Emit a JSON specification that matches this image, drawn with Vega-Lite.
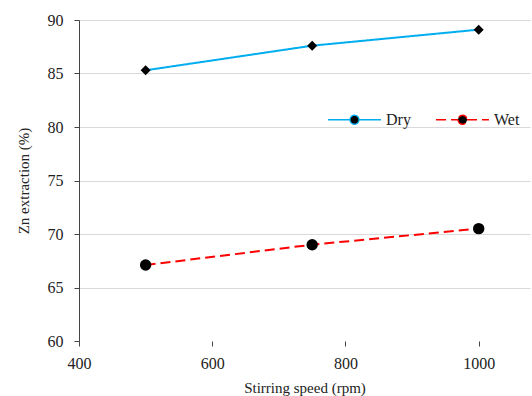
{
  "$schema": "https://vega.github.io/schema/vega-lite/v6.json",
  "width": 451,
  "height": 321,
  "autosize": {"type": "none"},
  "padding": {"left": 79, "top": 20, "right": 2, "bottom": 55},
  "background": "white",
  "config": {
    "view": {"stroke": null},
    "font": "Liberation Serif",
    "legend": {"labelFont": "Liberation Serif", "labelFontSize": 16, "labelColor": "#222"}
  },
  "data": {
    "values": [
      {"speed": 500, "ext": 85.3, "series": "Dry"},
      {"speed": 750, "ext": 87.6, "series": "Dry"},
      {"speed": 1000, "ext": 89.1, "series": "Dry"},
      {"speed": 500, "ext": 67.1, "series": "Wet"},
      {"speed": 750, "ext": 69.0, "series": "Wet"},
      {"speed": 1000, "ext": 70.5, "series": "Wet"}
    ]
  },
  "encoding": {
    "x": {
      "field": "speed", "type": "quantitative",
      "scale": {"domain": [400, 1077], "nice": false, "zero": false},
      "axis": {"values": [400, 600, 800, 1000], "format": "d", "labelFlush": false, "title": "Stirring  speed (rpm)", "domain": false, "grid": false, "tickSize": 5, "tickColor": "#444", "labelPadding": 9, "titlePadding": 9,
        "labelFont": "Liberation Serif", "titleFont": "Liberation Serif", "labelFontSize": 16, "titleFontSize": 15, "titleFontWeight": "normal", "labelColor": "#222", "titleColor": "#222"}
    },
    "y": {
      "field": "ext", "type": "quantitative",
      "scale": {"domain": [60, 90], "nice": false, "zero": false},
      "axis": {"values": [60, 65, 70, 75, 80, 85, 90], "title": "Zn extraction (%)", "domainColor": "#444", "tickColor": "#444", "tickSize": 5, "labelPadding": 11, "titlePadding": 16, "gridColor": "#d9d9d9", "gridOpacity": {"condition": {"test": "datum.value === 60", "value": 0}, "value": 1},
        "labelFont": "Liberation Serif", "titleFont": "Liberation Serif", "labelFontSize": 16, "titleFontSize": 15, "titleFontWeight": "normal", "labelColor": "#222", "titleColor": "#222"}
    }
  },
  "layer": [
    {
      "mark": {"type": "line", "strokeWidth": 2},
      "encoding": {
        "color": {
          "field": "series", "type": "nominal",
          "scale": {"domain": ["Dry", "Wet"], "range": ["#00aeef", "#ff0000"]},
          "legend": {
            "title": null, "orient": "none", "legendX": 248, "legendY": 72, "direction": "horizontal",
            "symbolType": "M-1,0L-0.17,0M0.17,0L1,0M-0.17,0A0.17,0.17 0 1,0 0.17,0A0.17,0.17 0 1,0 -0.17,0Z",
            "symbolSize": 2800, "symbolStrokeWidth": 1.3, "columnPadding": 22, "labelOffset": 4,
            "encode": {"symbols": {"update": {"fill": {"value": "black"}}}}
          }
        },
        "strokeDash": {
          "field": "series", "type": "nominal",
          "scale": {"domain": ["Dry", "Wet"], "range": [[1, 0], [10, 5]]},
          "legend": null
        }
      }
    },
    {
      "transform": [{"filter": "datum.series === 'Dry'"}],
      "mark": {"type": "point", "filled": true, "color": "black", "opacity": 1, "shape": "diamond", "size": 100},
      "encoding": {}
    },
    {
      "transform": [{"filter": "datum.series === 'Wet'"}],
      "mark": {"type": "point", "filled": true, "color": "black", "opacity": 1, "shape": "circle", "size": 130},
      "encoding": {}
    }
  ]
}
